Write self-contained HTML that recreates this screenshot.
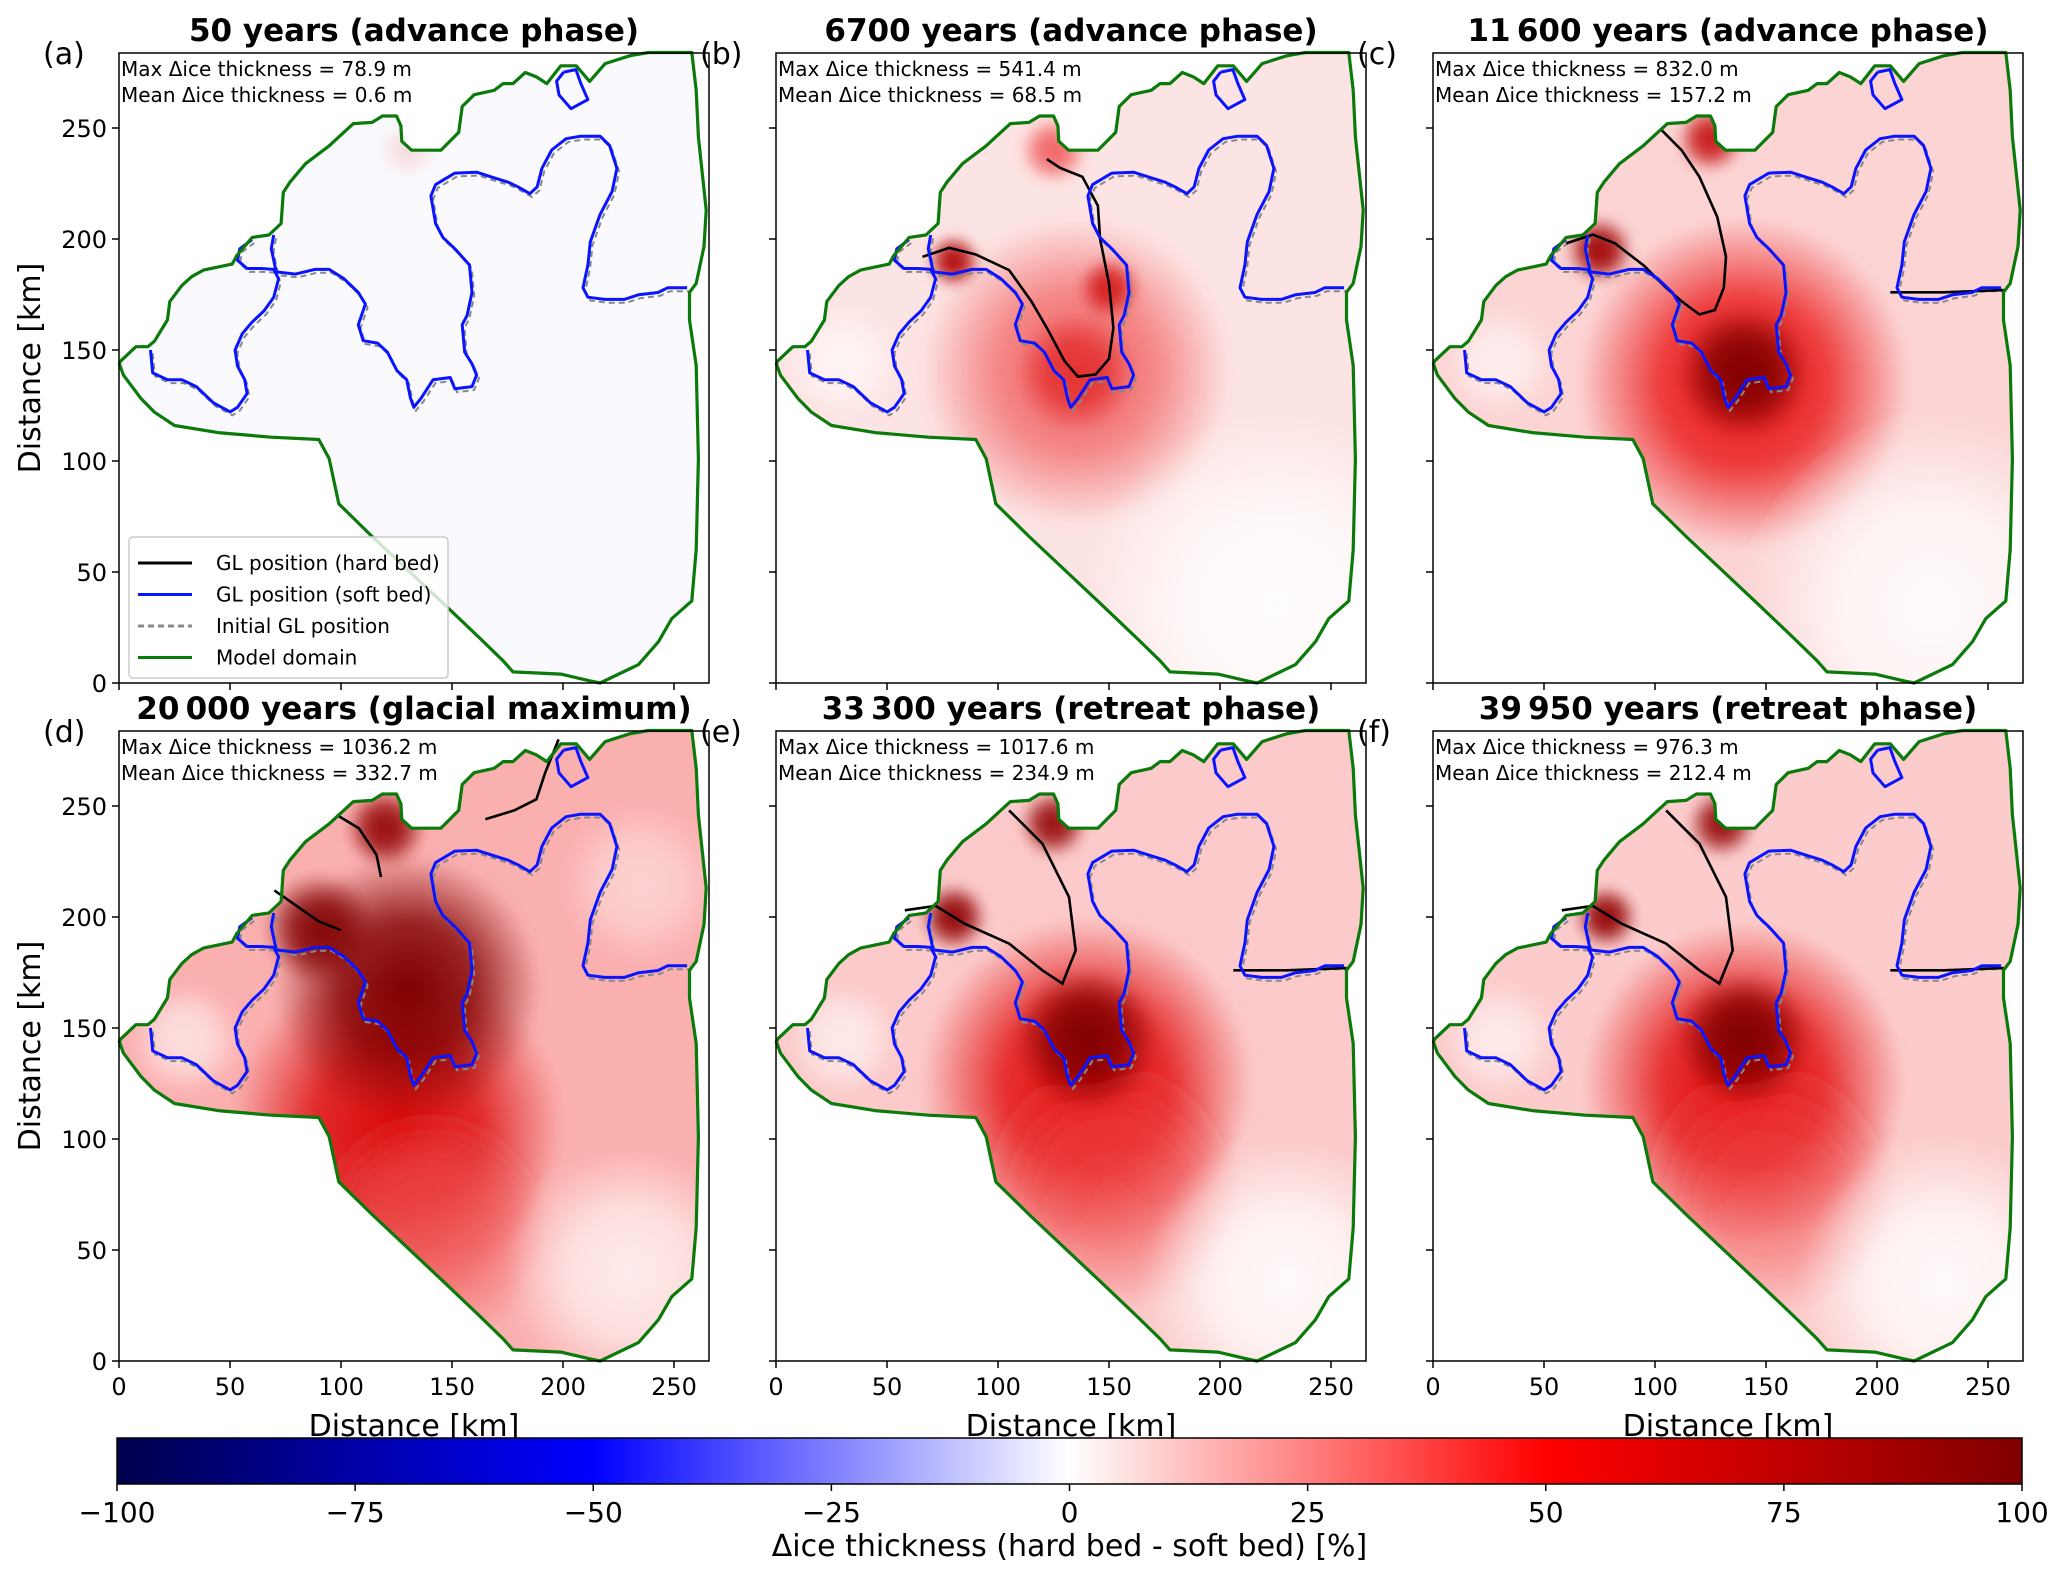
<!DOCTYPE html>
<html><head><meta charset="utf-8"><style>
html,body{margin:0;padding:0;background:#fff;}
svg text{font-family:"DejaVu Sans","Liberation Sans",sans-serif;}
</style></head><body>
<svg id="fig" width="2067" height="1570" xmlns="http://www.w3.org/2000/svg"></svg>
<script>
const panelTitles=["50 years (advance phase)","6700 years (advance phase)","11\u2009600 years (advance phase)","20\u2009000 years (glacial maximum)","33\u2009300 years (retreat phase)","39\u2009950 years (retreat phase)"];
const panelLetters=["(a)","(b)","(c)","(d)","(e)","(f)"];
const maxThick=["78.9","541.4","832.0","1036.2","1017.6","976.3"];
const meanThick=["0.6","68.5","157.2","332.7","234.9","212.4"];
const axisTicks=[0,50,100,150,200,250];
const cbTicks=[-100,-75,-50,-25,0,25,50,75,100];
const domainPoly=[[0.7,145],[7.6,151.5],[13,151.5],[16,154],[21.8,163.5],[22.9,171.8],[28.3,179],[32.7,183],[38,186],[51,188.7],[53,192.5],[60,200.7],[67.5,201.8],[73,207],[74,221],[77,225.6],[84,233.9],[94.7,242],[99,246],[105.6,252],[114,252.5],[118.7,255.4],[125,255.4],[127,251],[127.4,244],[131.8,240],[145,240],[153,248],[154.6,259.7],[160,265],[169,267],[173,270],[177.5,270],[183,275],[188,273],[192.7,270],[199,278],[206,278],[212,271],[219,279],[230,282.5],[238.5,284],[258,284],[260,267],[261,246],[264.5,213],[263.5,196.6],[260,180],[257,176],[257,163.5],[260,143],[261,101],[260,60],[258,37],[249,29],[243,18.6],[234,8.3],[216.7,0],[212,1],[199,4],[177.5,5],[173,10],[162,20.7],[147,35],[114,66],[99,80.7],[94.7,101],[90,109.7],[68.6,110.7],[44.6,112.8],[25,116],[16,122],[10,128],[2,138.7],[0.2,143.8]];
const glSoftA=[[14.2,150],[15.2,139.7],[21.8,136.6],[28.3,136.6],[34.8,133.5],[42.5,126.2],[50.1,122.1],[53.4,124.2],[57.7,130.4],[56.6,136.6],[53.4,142.8],[52.3,150],[55.5,157.3],[59.9,162.5],[65.3,167.6],[69.7,173.8],[71.9,182.1],[69.7,186.3],[64.2,186.7],[57.7,186.7],[53.4,190.4],[54.4,195.6],[59.9,199.7]];
const glSoftB=[[69.7,201.8],[68.6,195.6],[70.8,185.2],[79.5,184.2],[88.2,186.3],[94.7,186.3],[101.3,182.1],[107.8,175.9],[111,170.7],[107.8,161.4],[110,154.2],[116.5,153.1],[120.9,149],[125.2,140.7],[129.6,136.6],[131.3,128.3],[132.8,124.2],[136.1,128.3],[141.5,136.6],[149.2,137.6],[151.3,132.5],[159,133.5],[161.1,138.7],[159,143.8],[155.7,149],[154.6,161.4],[156.8,165.6],[159,175.9],[157.9,188.3],[151.3,195.6],[145.9,200.7],[142.6,207],[140.5,219.4],[142.6,224.5],[151.3,229.7],[161.1,230.1],[168.8,227.6],[175.3,225.6],[179.7,223.5],[185.1,220.4],[188.4,223.5],[190.5,231.8],[194.9,240.1],[201.4,245.2],[208,246.3],[216.7,246.3],[221,242.1],[224.3,231.8],[222.1,221.4],[216.7,211.1],[212.3,198.7],[211.2,188.3],[209,178],[211.2,173.8],[218.8,172.8],[227.6,172.8],[234.1,174.9],[242.8,175.9],[247.1,178],[255.9,178]];
const glIsland=[[200.3,275.2],[205.8,276.3],[208,270.1],[211.2,262.8],[203.6,258.7],[198.2,264.9],[197.1,271.1],[200.3,275.2]];
const hardB=[[66,192],[78,196],[90,193],[105,186],[115,172],[122,160],[130,145],[136,138],[144,139],[150,146],[152,160],[150,180],[146,200],[145,215],[138,228],[128,232],[122,236]];
const hardC=[[60,198],[72,202],[82,198],[95,188],[105,178],[112,172],[120,166],[127,168],[131,178],[132,192],[128,210],[120,228],[112,240],[103,249]];
const hardD1=[[70,212],[80,205],[90,198],[100,194]];
const hardD2=[[98,246],[108,240],[116,228],[118,218]];
const hardD3=[[165,244],[178,248],[188,253],[192,265],[198,280]];
const hardEF=[[58,203],[72,205],[85,197],[105,188],[120,176],[129,170],[135,185],[132,209],[120,233],[105,248]];
const hardRight=[[206,176],[230,176],[257,177]];
const panelBase=["#f9f9fe","#fde4e4","#fcd4d4","#fbb0b0","#fccaca","#fccccc"];
const panelBlobs=[
 [[130,240,12,"#f8c8c8",0.6]],
 [[135,140,70,"#f05050",0.8],[135,140,28,"#e02020",0.8],[80,190,12,"#b00000",1],[150,178,14,"#d01010",0.9],[125,240,15,"#ee4040",0.8],[225,35,85,"#ffffff",0.9],[30,145,25,"#ffffff",0.6]],
 [[140,135,75,"#e80000",0.9],[140,140,30,"#800000",1],[75,195,15,"#a00000",1],[125,245,15,"#c00000",0.9],[225,35,85,"#ffffff",0.9],[30,145,25,"#ffffff",0.6]],
 [[125,105,75,"#d80000",0.95],[140,60,55,"#f05050",0.7],[130,168,60,"#800000",1],[90,195,25,"#800000",0.95],[120,240,18,"#900000",0.95],[230,40,55,"#fff2f2",0.9],[235,215,35,"#fde0e0",0.7],[30,145,25,"#ffffff",0.6]],
 [[140,125,75,"#e00000",0.95],[150,80,60,"#f04040",0.6],[140,145,32,"#800000",1],[80,200,15,"#900000",1],[125,242,15,"#900000",0.95],[230,35,65,"#ffffff",0.9],[30,145,25,"#ffffff",0.6]],
 [[140,125,73,"#e00000",0.95],[150,80,60,"#f04040",0.55],[140,145,30,"#800000",1],[78,200,14,"#900000",1],[130,242,15,"#900000",0.95],[230,35,65,"#ffffff",0.9],[30,145,25,"#ffffff",0.6]]
];
const panelHard=[[],[hardB],[hardC,hardRight],[hardD1,hardD2,hardD3],[hardEF,hardRight],[hardEF,hardRight]];

const NS="http://www.w3.org/2000/svg";
const svg=document.getElementById('fig');
function el(tag,attrs,parent){const e=document.createElementNS(NS,tag);for(const k in attrs)e.setAttribute(k,attrs[k]);(parent||svg).appendChild(e);return e;}
const S=2.22, colX=[119,776,1433], rowB=[683,1361], W=590, H=630;
const defs=el('defs',{});
const blur=el('filter',{id:'bl',x:'-20%',y:'-20%',width:'140%',height:'140%'},defs);
el('feGaussianBlur',{stdDeviation:'6'},blur);

for(let p=0;p<6;p++){
  const X0=colX[p%3], YB=rowB[Math.floor(p/3)], YT=YB-H;
  const sx=x=>X0+x*S, sy=y=>YB-y*S;
  const pts=a=>a.map(q=>sx(q[0]).toFixed(1)+','+sy(q[1]).toFixed(1)).join(' ');
  const g=el('g',{});
  
  
  const cp=el('clipPath',{id:'cp'+p},defs);
  el('polygon',{points:pts(domainPoly)},cp);
  const hg=el('g',{'clip-path':'url(#cp'+p+')'},g);
  
  
  el('rect',{x:X0,y:YT,width:W,height:H,fill:panelBase[p]},hg);
  const bg=el('g',{filter:'url(#bl)'},hg);
  panelBlobs[p].forEach((b,i)=>{
    const id='rg'+p+'_'+i;
    const rg=el('radialGradient',{id:id},defs);
    el('stop',{offset:'0','stop-color':b[3],'stop-opacity':b[4]},rg);
    el('stop',{offset:'0.5','stop-color':b[3],'stop-opacity':b[4]*0.8},rg);
    el('stop',{offset:'1','stop-color':b[3],'stop-opacity':0},rg);
    el('circle',{cx:sx(b[0]),cy:sy(b[1]),r:b[2]*S,fill:'url(#'+id+')'},bg);
  });
  [glSoftA,glSoftB].forEach(l=>{
    const d=el('polyline',{points:pts(l.map(q=>[q[0]+1,q[1]-1.5])),fill:'none',stroke:'#888','stroke-width':2,'stroke-dasharray':'6,4'},g);
    
    
  });
  panelHard[p].forEach(l=>{
    const h=el('polyline',{points:pts(l),fill:'none',stroke:'#000','stroke-width':2.6},g);
    
    
  });
  [glSoftA,glSoftB,glIsland].forEach(l=>{
    const s=el('polyline',{points:pts(l),fill:'none',stroke:'#0a14ff','stroke-width':3,'stroke-linejoin':'round'},g);
    
    
  });
  const dm=el('polygon',{points:pts(domainPoly),fill:'none',stroke:'#0a7a0a','stroke-width':3.2,'stroke-linejoin':'round'},g);
  
  
  const fr=el('rect',{x:X0,y:YT,width:W,height:H,fill:'none',stroke:'#000','stroke-width':1.5},g);
  
  
  axisTicks.forEach(t=>{
    el('line',{x1:sx(t),x2:sx(t),y1:YB,y2:YB+7,stroke:'#000','stroke-width':1.5},g);
    el('line',{x1:X0,x2:X0-7,y1:sy(t),y2:sy(t),stroke:'#000','stroke-width':1.5},g);
    if(p%3===0){const ty=el('text',{x:X0-12,y:sy(t)+9,'font-size':24,'text-anchor':'end'},g);ty.textContent=t;
      }
    if(p>=3){const tx=el('text',{x:sx(t),y:YB+34,'font-size':24,'text-anchor':'middle'},g);tx.textContent=t;
      }
  });
  const ti=el('text',{x:X0+W/2,y:YT-12,'font-size':31,'font-weight':'bold','text-anchor':'middle'},g);
  ti.textContent=panelTitles[p];
  
  const le=el('text',{x:X0-76,y:YT+11,'font-size':30},g);
  le.textContent=panelLetters[p];
  
  const a1=el('text',{x:X0+2,y:YT+23,'font-size':20},g);
  a1.textContent='Max \u0394ice thickness = '+maxThick[p]+' m';
  
  const a2=el('text',{x:X0+2,y:YT+49,'font-size':20},g);
  a2.textContent='Mean \u0394ice thickness = '+meanThick[p]+' m';
  
  if(p%3===0){const yl=el('text',{x:0,y:0,'font-size':30,'text-anchor':'middle',transform:'translate(40,'+(YT+H/2)+') rotate(-90)'},g);
    yl.textContent='Distance [km]';}
  if(p>=3){const xl=el('text',{x:X0+W/2,y:YB+75,'font-size':30,'text-anchor':'middle'},g);
    xl.textContent='Distance [km]';}
}
const lg=el('g',{});


el('rect',{x:129,y:537,width:319,height:141,rx:4,fill:'#fff','fill-opacity':0.8,stroke:'#ccc','stroke-width':1.5},lg);
const legItems=[["GL position (hard bed)","#000",""],["GL position (soft bed)","#0a14ff",""],["Initial GL position","#888","6,4"],["Model domain","#0a7a0a",""]];
legItems.forEach((it,i)=>{
  const y=563+i*31.5;
  const e=el('g',{},lg);
  
  
  el('line',{x1:138,x2:192,y1:y,y2:y,stroke:it[1],'stroke-width':3,'stroke-dasharray':it[2]},e);
  const t=el('text',{x:216,y:y+7,'font-size':20},e);t.textContent=it[0];
});
const cg=el('g',{});


const lgr=el('linearGradient',{id:'cbg',x1:0,x2:1,y1:0,y2:0},defs);
[[0,'#00004c'],[0.25,'#0000ff'],[0.5,'#ffffff'],[0.75,'#ff0000'],[1,'#800000']].forEach(s=>el('stop',{offset:s[0],'stop-color':s[1]},lgr));
const CB0=117,CB1=2022,CBT=1438,CBB=1484;
const cx=v=>CB0+(v+100)/200*(CB1-CB0);
el('rect',{x:CB0,y:CBT,width:CB1-CB0,height:CBB-CBT,fill:'url(#cbg)',stroke:'#000','stroke-width':1.5},cg);
cbTicks.forEach(v=>{
  el('line',{x1:cx(v),x2:cx(v),y1:CBB,y2:CBB+7,stroke:'#000','stroke-width':1.5},cg);
  const t=el('text',{x:cx(v),y:CBB+38,'font-size':28,'text-anchor':'middle'},cg);
  t.textContent=(v<0?'\u2212'+(-v):v);
});
const cl=el('text',{x:(CB0+CB1)/2,y:1556,'font-size':30,'text-anchor':'middle'},cg);
cl.textContent='\u0394ice thickness (hard bed - soft bed) [%]';


</script>
</body></html>
